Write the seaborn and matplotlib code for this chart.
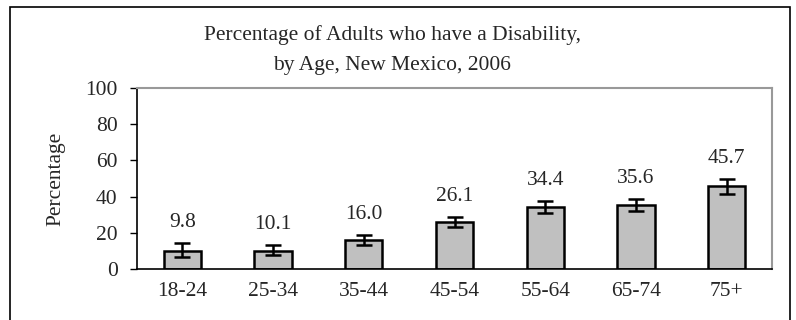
import numpy as np
import pandas as pd
import matplotlib
matplotlib.use("Agg")
import matplotlib.pyplot as plt
import seaborn as sns
from matplotlib.patches import Rectangle

# values
age_groups = ["18-24", "25-34", "35-44", "45-54", "55-64", "65-74", "75+"]
pct = [9.8, 10.1, 16.0, 26.1, 34.4, 35.6, 45.7]
ci_low = [6.8, 7.7, 13.3, 23.4, 31.1, 32.2, 41.3]
ci_high = [14.2, 13.3, 18.8, 28.9, 37.7, 38.9, 49.7]
y_ticks = [0, 20, 40, 60, 80, 100]

df = pd.DataFrame({"age": age_groups, "pct": pct})

sns.set_style("white")
plt.rcParams["font.family"] = ["Liberation Serif", "DejaVu Serif"]
fs = 15.5

fig = plt.figure(figsize=(7.96, 3.2), dpi=100)
ax = fig.add_axes([137 / 796, 51 / 320, (772 - 137) / 796, (269 - 88) / 320])

sns.barplot(data=df, x="age", y="pct", color="#c0c0c0", saturation=1,
            edgecolor="black", linewidth=1.8, width=0.41, ax=ax)

# confidence intervals
x = np.arange(len(age_groups))
yerr = [np.array(pct) - np.array(ci_low), np.array(ci_high) - np.array(pct)]
ax.errorbar(x, pct, yerr=yerr, fmt="none", ecolor="black",
            elinewidth=1.8, capsize=6, capthick=1.8)

# value labels above the error bars
for xi, v, hi in zip(x, pct, ci_high):
    ax.annotate(f"{v:.1f}", (xi, hi), xytext=(0, 11.5), textcoords="offset points",
                ha="center", va="baseline", fontsize=fs)

ax.set_ylim(0, 100)
ax.set_xlim(-0.5, len(age_groups) - 0.5)
ax.set_yticks(y_ticks)
ax.set_xticks(np.arange(len(age_groups) + 1) - 0.5, minor=True)
ax.tick_params(axis="x", which="major", length=0, labelsize=fs, pad=9)
ax.tick_params(axis="x", which="minor", length=5, width=1, color="black", direction="out")
ax.tick_params(axis="y", length=5, width=1, color="black", labelsize=fs, left=True, pad=9)
ax.set_xlabel("")
ax.set_ylabel("Percentage", fontsize=fs, labelpad=14)

for side in ["top", "right"]:
    ax.spines[side].set_color("#999999")
    ax.spines[side].set_linewidth(1.5)
for side in ["left", "bottom"]:
    ax.spines[side].set_color("black")
    ax.spines[side].set_linewidth(1.2)

fig.text(392 / 796, 1 - 50 / 320,
         "Percentage of Adults who have a Disability,\nby Age, New Mexico, 2006",
         ha="center", va="center", fontsize=fs, linespacing=1.78)

# outer chart frame
fig.add_artist(Rectangle((10 / 796, -0.2), 780 / 796, 1.2 - 7 / 320,
                         transform=fig.transFigure, fill=False,
                         edgecolor="black", linewidth=1.2))

fig.savefig("out.png", dpi=100)
